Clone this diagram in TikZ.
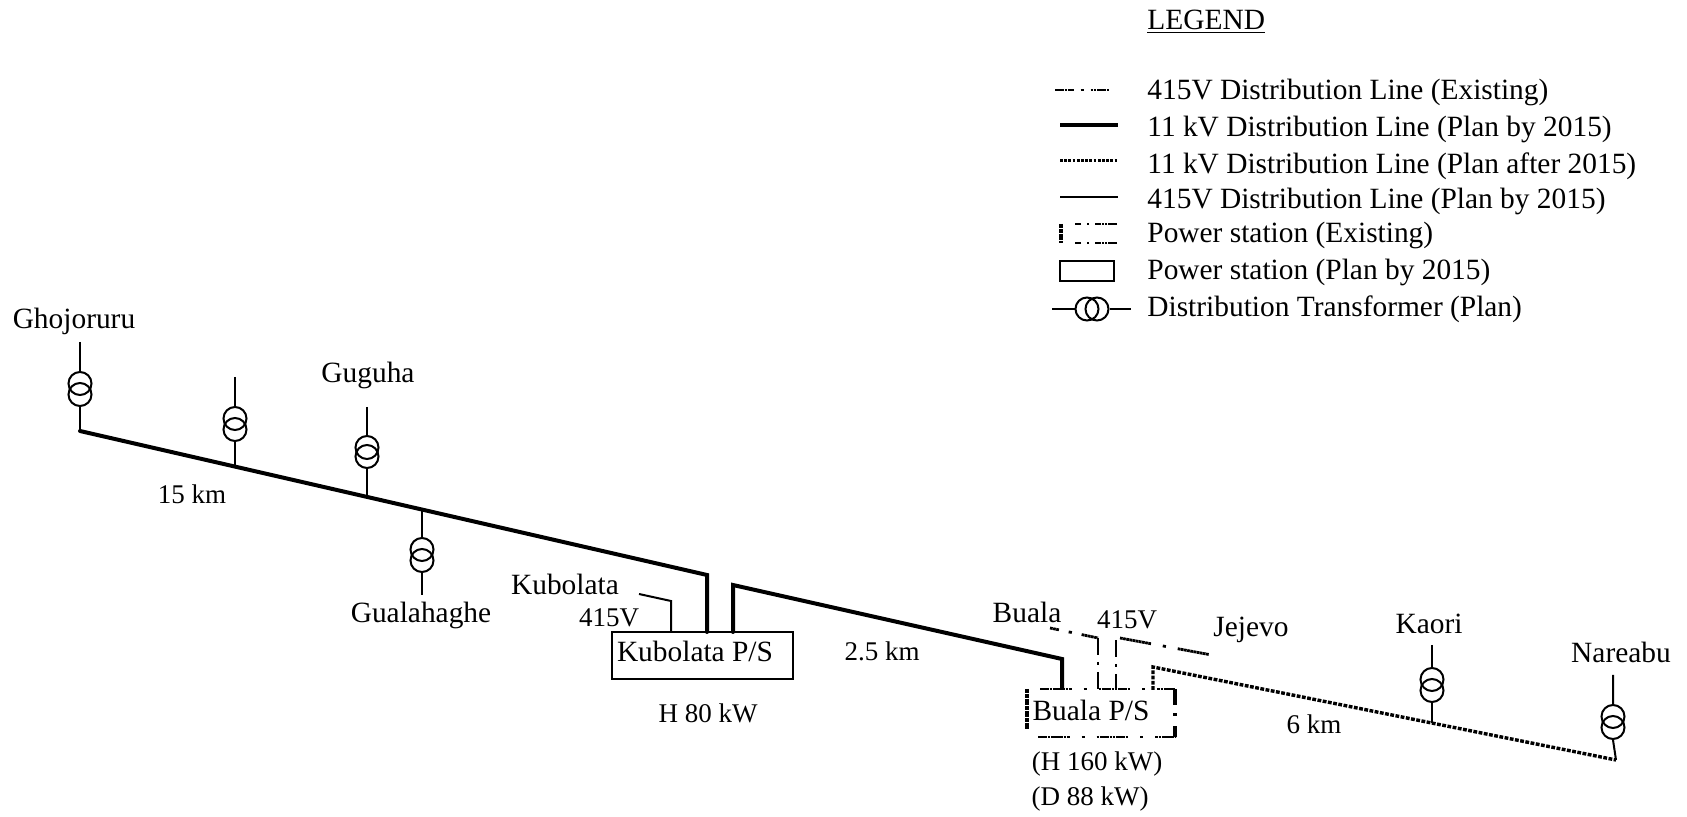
\documentclass[tikz,border=0pt]{standalone}
\usepackage{fontspec}
\setmainfont{Liberation Serif}
\begin{document}
\begin{tikzpicture}[x=0.5pt,y=-0.5pt,
  lbl/.style={inner sep=0pt,font=\fontsize{14.7}{17}\selectfont,text=black},
  num/.style={inner sep=0pt,font=\fontsize{13.5}{16}\selectfont,text=black},
  leg/.style={lbl,anchor=west},
  hv/.style={line width=2pt,line join=miter,line cap=round},
  thin415/.style={line width=1pt},
  wave/.style={line width=1.4pt,dash pattern=on 1.35pt off .25pt on 1.35pt off .25pt on 1.35pt off .25pt on 1.35pt off .25pt on 1.35pt off .25pt on 1.35pt off .25pt on 1.35pt off .25pt on 1.35pt off .25pt on 1.35pt off .25pt on 1.35pt off 6pt on 1.6pt off 6pt},
  stub/.style={line width=1.3pt,dash pattern=on 8.5pt off 3.5pt on 1.5pt off 3.5pt},
  after/.style={line width=1.7pt,line join=miter,dash pattern=on 1.9pt off .75pt},
  psbox/.style={draw,line width=1pt,inner sep=0pt,minimum width=90.5pt,minimum height=23.5pt},
  coil/.style={circle,draw,line width=1pt,inner sep=0pt,minimum size=11.5pt}]
\useasboundingbox (0,0) rectangle (1687,817);

% ---- main 11 kV line, west part
\coordinate (w0) at (80,431);
\coordinate (w1) at (707,575);
\coordinate (w1b) at (707,632);
\coordinate (j2) at (235,467);
\coordinate (j3) at (367,497);
\coordinate (j4) at (422,510);
\draw[hv] (w0) -- (w1) -- (w1b);

% Kubolata P/S
\node[psbox] (kub) at (702.5,655.5) {};
\node[lbl] (kubt) at (695,651) {Kubolata P/S};
\node[num] (kubp) at (708,713) {H 80 kW};
\coordinate (k415a) at (639,594);
\coordinate (k415b) at (671,601);
\coordinate (k415c) at (671,632);
\draw[thin415] (k415a) -- (k415b) -- (k415c);
\node[lbl] (kubn) at (565,584) {Kubolata};
\node[num] (kubv) at (609,618) {415V};

% ---- 11 kV to Buala
\coordinate (m0) at (733,632);
\coordinate (m1) at (733,585);
\coordinate (m2) at (1062,659);
\coordinate (m3) at (1062,688);
\draw[hv] (m0) -- (m1) -- (m2) -- (m3);
\node[num] (l25) at (882,651) {2.5 km};

% ---- transformers
\node[coil] (t1a) at (80,383.5) {}; \node[coil] (t1b) at (80,394.5) {};
\coordinate (t1top) at (80,342);
\draw[thin415] (t1top) -- (t1a.north) (t1b.south) -- (w0);
\node[lbl] (n1) at (74,321) {Ghojoruru};

\node[coil] (t2a) at (235,418.5) {}; \node[coil] (t2b) at (235,429.5) {};
\coordinate (t2top) at (235,377);
\draw[thin415] (t2top) -- (t2a.north) (t2b.south) -- (j2);

\node[coil] (t3a) at (367,447.5) {}; \node[coil] (t3b) at (367,456.5) {};
\coordinate (t3top) at (367,407);
\draw[thin415] (t3top) -- (t3a.north) (t3b.south) -- (j3);
\node[lbl] (n3) at (368,375) {Guguha};

\node[coil] (t4a) at (422,549.5) {}; \node[coil] (t4b) at (422,560.5) {};
\coordinate (t4bot) at (422,595);
\draw[thin415] (j4) -- (t4a.north) (t4b.south) -- (t4bot);
\node[lbl] (n4) at (421,615) {Gualahaghe};
\node[num] (l15) at (192,494) {15 km};

% ---- Buala P/S (existing)
\coordinate (b1) at (1027,689);
\coordinate (b2) at (1175,689);
\coordinate (b3) at (1175,737);
\coordinate (b4) at (1027,737);
\draw[wave] (b1) ++(13,0) -- (b2);
\draw[line width=1.6pt,dash pattern=on 8pt off 4pt on 1.5pt off 5pt on 5.5pt off 0pt] (b2) -- (b3);
\draw[wave] (b4) ++(11,0) -- (b3);
\draw[line width=1.9pt,dash pattern=on 1pt off .2pt] (b1) -- ++(0,40);
\node[lbl] (bt) at (1091,710) {Buala P/S};
\node[num] (bh) at (1097,764) {(H 160 kW)};
\node[num] (bd) at (1090,799) {(D 88 kW)};

% existing 415 V lines at Buala
\coordinate (e1) at (1050,628);
\coordinate (e2) at (1098,638);
\coordinate (e3) at (1098,689);
\coordinate (e4) at (1116,689);
\coordinate (e5) at (1116,640);
\coordinate (e6) at (1120,638);
\coordinate (e7) at (1217,656);
\draw[line width=1.4pt,dash pattern=on 1.35pt off .25pt on 1.35pt off .25pt on 1.35pt off 5pt on 1.6pt off 5pt on 1.35pt off .25pt on 1.35pt off .25pt on 1.35pt off .25pt on 1.35pt off .25pt on 1.35pt off .25pt on 1.35pt off .25pt on 1.35pt off .25pt] (e1) -- (e2);
\draw[stub] (e2) -- (e3);
\draw[stub] (e5) -- (e4);
\draw[wave] (e6) -- (e7);
\node[num] (v2) at (1127,620) {415V};
\node[lbl] (n5) at (1027,612) {Buala};
\node[lbl] (n6) at (1251,630) {Jejevo};

% ---- 11 kV planned after 2015
\coordinate (p0) at (1153,690);
\coordinate (p1) at (1153,667);
\coordinate (p2) at (1616,760);
\coordinate (j7) at (1432,723);
\draw[after] (p0) -- (p1) -- (p2);
\node[num] (l6) at (1314,724) {6 km};

\node[coil] (t7a) at (1432,679.5) {}; \node[coil] (t7b) at (1432,690.5) {};
\coordinate (t7top) at (1432,645);
\draw[thin415] (t7top) -- (t7a.north) (t7b.south) -- (j7);
\node[lbl] (n7) at (1429,624) {Kaori};

\node[coil] (t8a) at (1613,716.5) {}; \node[coil] (t8b) at (1613,727.5) {};
\coordinate (t8top) at (1613,675);
\draw[thin415] (t8top) -- (t8a.north) (t8b.south) -- (p2);
\node[lbl] (n8) at (1621,652) {Nareabu};

% ---- legend
\node[leg] (lg) at (1147,22) {\underline{LEGEND}};
\node[leg] (g1) at (1147,92) {415V Distribution Line (Existing)};
\node[leg] (g2) at (1147,129) {11 kV Distribution Line (Plan by 2015)};
\node[leg] (g3) at (1147,166) {11 kV Distribution Line (Plan after 2015)};
\node[leg] (g4) at (1147,201) {415V Distribution Line (Plan by 2015)};
\node[leg] (g5) at (1147,235) {Power station (Existing)};
\node[leg] (g6) at (1147,272) {Power station (Plan by 2015)};
\node[leg] (g7) at (1147,309) {Distribution Transformer (Plan)};

\coordinate (s1a) at (1055,90); \coordinate (s1b) at (1113,90);
\draw[line width=1.2pt,dash pattern=on 1.35pt off .25pt on 1.35pt off .25pt on 1.35pt off .25pt on 1.35pt off .25pt on 1.35pt off .25pt on 1.35pt off 3.5pt on 1.4pt off 3.5pt] (s1a) -- (s1b);
\coordinate (s2a) at (1060,125); \coordinate (s2b) at (1118,125);
\draw[line width=1.9pt] (s2a) -- (s2b);
\coordinate (s3a) at (1060,161); \coordinate (s3b) at (1118,161);
\draw[line width=1.5pt,dash pattern=on 1.4pt off 0.7pt] (s3a) -- (s3b);
\coordinate (s4a) at (1060,197); \coordinate (s4b) at (1118,197);
\draw[line width=1pt] (s4a) -- (s4b);

\coordinate (s5a) at (1061,224); \coordinate (s5b) at (1117,224);
\coordinate (s5c) at (1117,243); \coordinate (s5d) at (1061,243);
\draw[line width=1.8pt,dash pattern=on 1pt off 0.2pt] (s5a) -- (s5d);
\draw[line width=1.4pt,dash pattern=on 1.35pt off .25pt on 1.35pt off .25pt on 1.35pt off .25pt on 1.35pt off .25pt on 1.35pt off .25pt on 1.35pt off .25pt on 1.35pt off 3pt on 1pt off 3pt] (s5b) -- ++(-42,0);
\draw[line width=1.4pt,dash pattern=on 1.35pt off .25pt on 1.35pt off .25pt on 1.35pt off .25pt on 1.35pt off .25pt on 1.35pt off .25pt on 1.35pt off .25pt on 1.35pt off 3pt on 1pt off 3pt] (s5c) -- ++(-42,0);
\node[draw,line width=1pt,inner sep=0pt,minimum width=27pt,minimum height=10pt] (s6) at (1087,271) {};

\node[coil] (s7a) at (1087,309) {}; \node[coil] (s7b) at (1097,309) {};
\coordinate (s7l) at (1052,309); \coordinate (s7r) at (1131,309);
\draw[thin415] (s7l) -- (s7a.west) (s7b.east) -- (s7r);
\end{tikzpicture}
\end{document}
